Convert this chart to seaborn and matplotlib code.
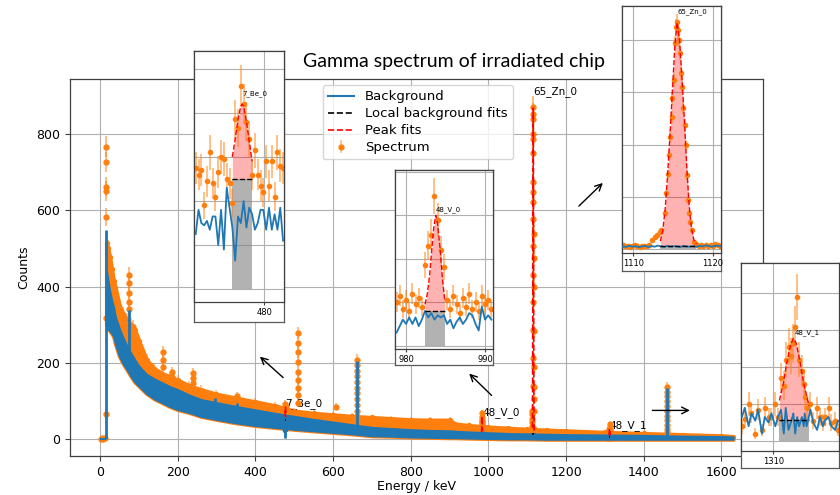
import numpy as np
import matplotlib
matplotlib.use("Agg")
import matplotlib.pyplot as plt
from matplotlib.ticker import MultipleLocator
from matplotlib.lines import Line2D
import seaborn as sns

# ---------------- data ----------------
# continuum envelope of the main spectrum (keV, counts)
band_keV = [17, 20, 25, 30, 35, 40, 50, 60, 70, 80, 90, 100, 120, 140, 160, 180, 200, 230, 260, 300,
            350, 400, 450, 500, 550, 600, 650, 700, 750, 800, 850, 900, 915, 950, 1000, 1050, 1100, 1150,
            1200, 1300, 1400, 1500, 1600, 1630]
spec_hi = [513, 500, 478, 445, 415, 395, 350, 328, 312, 300, 285, 258, 208, 185, 172, 164, 155, 140, 130, 118,
           108, 98, 88, 74, 68, 64, 60, 57, 54, 51, 50, 50, 40, 36, 32, 29, 26, 24,
           22, 18, 15, 12, 9, 7]
bg_hi = [440, 420, 390, 365, 347, 320, 290, 265, 243, 225, 208, 192, 170, 158, 148, 138, 130, 116, 104, 96,
         86, 77, 68, 60, 52, 45, 38, 31, 28, 25, 23, 22, 21, 19, 17, 15, 14, 13,
         12, 11, 10, 8, 7, 6]
bg_lo = [300, 290, 285, 278, 270, 250, 218, 198, 182, 165, 150, 140, 120, 106, 96, 86, 78, 70, 60, 52,
         43, 36, 31, 26, 22, 18, 14, 9, 8, 6, 5, 4, 4, 3, 2, 1, 1, 0,
         0, 0, 0, 0, 0, 0]

# lowest channels
low_keV = [3, 6, 9, 12]
low_counts = [1, 2, 1, 3]
low_bg = [0, 0, 0, 0]

# high channels of the strong lines (spectrum)
stack_keV = [15.5, 74.8, 84.5, 163, 186, 239, 352, 510.8, 609, 661.7, 1460.8]
stack_counts = [
    [66, 317, 583, 651, 662, 727, 766],
    [340, 360, 383, 409, 430],
    [278, 295],
    [190, 208, 229],
    [164, 177],
    [147, 160, 173],
    [112],
    [95, 115, 135, 155, 177, 203, 229, 251, 278],
    [85],
    [62, 75, 90, 105, 120, 135, 150, 165, 180, 195, 208],
    [20, 28, 38, 50, 62, 75, 88, 100, 112, 125, 138],
]
# background spikes
spike_keV = [15.5, 74.8, 296, 352, 476.9, 661.7, 1460.8]
spike_base = [0, 182, 55, 43, 2, 14, 0]
spike_top = [548, 339, 108, 95, 40, 206, 135]

# 7Be region
be_keV = [472.7, 473.0, 473.3, 473.6, 473.9, 474.2, 474.5, 474.8, 475.1, 475.4, 475.7, 476.0, 476.3, 476.6,
          476.9, 477.2, 477.5, 477.8, 478.1, 478.4, 478.7, 479.0, 479.3, 479.6, 479.9, 480.2, 480.5, 480.8,
          481.1, 481.4, 481.7, 482.0]
be_spec = [55, 52, 54, 38, 49, 62, 48, 42, 53, 60, 59, 50, 48, 39, 77, 73, 92, 84, 76, 68, 52, 63, 52, 47,
           44, 58, 47, 58, 42, 62, 56, 55]
be_bg = [25, 36, 30, 29, 31, 27, 33, 33, 20, 36, 18, 46, 37, 28, 13, 33, 30, 40, 28, 37, 34, 27, 30, 36,
         36, 27, 37, 27, 34, 27, 37, 22]
be_fit_keV = [476.6, 476.9, 477.2, 477.5, 477.65, 477.8, 478.1, 478.4, 478.7]
be_fit = [60, 68, 77, 83, 84, 83, 76, 67, 58]
be_fit_bg = 50

# 48V (983.5 keV) region
v0_keV = [978.8, 979.2, 979.6, 980.0, 980.4, 980.8, 981.2, 981.6, 982.0, 982.4, 982.8, 983.2, 983.6, 984.0,
          984.4, 984.8, 985.2, 985.6, 986.0, 986.4, 986.8, 987.2, 987.6, 988.0, 988.4, 988.8, 989.2, 989.6,
          990.0, 990.4, 990.8]
v0_spec = [20, 23, 17, 21, 16, 24, 19, 22, 18, 37, 46, 51, 69, 58, 44, 36, 21, 17, 23, 19, 15, 22, 18, 24,
           17, 20, 16, 23, 19, 21, 17]
v0_bg = [6, 9, 12, 10, 13, 10, 13, 9, 12, 16, 13, 15, 12, 14, 13, 14, 10, 12, 8, 11, 13, 10, 12, 15, 14,
         10, 7, 18, 12, 14, 12]
v0_fit_keV = [982.4, 982.7, 983.0, 983.3, 983.5, 983.76, 984.0, 984.3, 984.6, 984.9]
v0_fit = [19, 24, 33, 46, 54, 60, 56, 45, 31, 21]
v0_fit_bg = 16

# 65Zn region
zn_keV = [1108.7, 1109.0, 1109.3, 1109.6, 1109.9, 1110.2, 1110.5, 1110.8, 1111.1, 1111.4, 1111.7, 1112.0,
          1112.3, 1112.7, 1113.0, 1113.3, 1113.5, 1113.95, 1114.1, 1114.3, 1114.5, 1114.65, 1114.8, 1114.9,
          1115.05, 1115.2, 1115.35, 1115.45, 1115.6, 1115.75, 1115.9, 1116.05, 1116.15, 1116.3, 1116.45,
          1116.6, 1116.7, 1116.85, 1117.0, 1117.1, 1117.4, 1117.6,
          1117.9, 1118.2, 1118.5, 1118.8, 1119.1, 1119.4, 1119.7, 1120.0, 1120.3, 1120.6, 1120.9]
zn_spec = [14, 10, 13, 9, 12, 15, 11, 9, 12, 10, 13, 17,
           34, 45, 54, 66, 73, 139, 213, 287, 360, 430, 507, 577,
           647, 788, 852, 871, 839, 801, 750, 673, 622, 539, 475,
           398, 283, 188, 137, 105, 73, 28,
           18, 12, 15, 11, 14, 10, 16, 13, 19, 15, 12]
zn_bg_keV = [1108.7, 1109.1, 1109.5, 1109.9, 1110.3, 1110.7, 1111.1, 1111.5, 1111.9, 1112.3, 1112.7,
             1113.1, 1113.5, 1113.9, 1114.3, 1114.7, 1115.1, 1115.5, 1115.9, 1116.3, 1116.7, 1117.1,
             1117.5, 1117.9, 1118.3, 1118.7, 1119.1, 1119.5, 1119.9, 1120.3, 1120.7, 1121.0]
zn_bg = [10, 8, 12, 9, 11, 7, 10, 12, 8, 11, 9, 13, 10, 8, 12, 9, 11, 10, 8, 12, 10, 9, 11, 8, 12, 10,
         14, 11, 9, 13, 12, 10]
zn_fit_keV = [1113.4, 1113.7, 1114.0, 1114.3, 1114.6, 1114.9, 1115.2, 1115.5, 1115.8, 1116.1, 1116.4,
              1116.7, 1117.0, 1117.3, 1117.6, 1117.9]
zn_fit = [30, 70, 150, 280, 430, 600, 770, 868, 800, 660, 500, 320, 170, 80, 35, 18]
zn_fit_bg = 13

# 48V (1312.1 keV) region
v1_keV = [1306.7, 1307.0, 1307.4, 1307.7, 1308.1, 1308.4, 1308.8, 1309.1, 1309.5, 1309.8, 1310.2, 1310.5,
          1310.8, 1311.1, 1311.3, 1311.6, 1311.9, 1312.1, 1312.3, 1312.5, 1312.7, 1313.0, 1313.2, 1313.3,
          1313.5, 1313.9, 1314.2, 1314.6, 1314.9, 1315.2, 1315.4, 1315.8, 1316.1, 1316.5, 1316.8]
v1_spec = [4, 6, 10, 7.5, 2, 8.5, 3, 9, 6.5, 6.5, 10, 6.5, 17, 15, 22, 25.5, 23, 26.5, 31, 39,
           22, 19, 15.5, 12, 9, 10, 5.5, 9, 6.5, 5, 6.5, 9, 5, 5.5, 3]
v1_bg = [6.5, 9, 4, 7.5, 5.5, 8.5, 2, 6.5, 5, 7.5, 4, 6.5, 8.5, 2, 9, 3, 5.5, 7.5, 2, 6.5,
         4, 6.5, 4, 7.5, 4, 8.5, 5, 3, 6.5, 4, 5.5, 6.5, 4, 3, 5.5]
v1_fit_keV = [1310.64, 1311.0, 1311.4, 1311.8, 1312.1, 1312.4, 1312.8, 1313.2, 1313.76]
v1_fit = [11, 15, 21, 26, 27.8, 26.5, 21.5, 15.5, 9.5]
v1_fit_bg = 5.7

peak_labels = ["7_Be_0", "48_V_0", "65_Zn_0", "48_V_1"]
label_keV = [477.7, 983.8, 1115.5, 1312.2]
label_counts = [88, 62, 905, 29]

# ---------------- drawing ----------------
ERR = (1.0, 0.498, 0.055, 0.5)
GRID = '#b0b0b0'
SPINE = '0.25'

regions = [
    (be_keV, be_spec, be_keV, be_bg, be_fit_keV, be_fit, be_fit_bg),
    (v0_keV, v0_spec, v0_keV, v0_bg, v0_fit_keV, v0_fit, v0_fit_bg),
    (zn_keV, zn_spec, zn_bg_keV, zn_bg, zn_fit_keV, zn_fit, zn_fit_bg),
    (v1_keV, v1_spec, v1_keV, v1_bg, v1_fit_keV, v1_fit, v1_fit_bg),
]

fig = plt.figure(figsize=(8.4, 4.95), dpi=100)


def fpos(l, t, r, b):
    return [l / 840, 1 - b / 495, (r - l) / 840, (b - t) / 495]


def style_axes(ax):
    for s in ax.spines.values():
        s.set_color(SPINE)
        s.set_linewidth(0.9)
    ax.grid(True, color=GRID, lw=0.8)
    ax.set_axisbelow(True)


def draw_region(ax, reg, ms, lw_bg, lw_fit, elw):
    k, c, bk, b, fk, fv, fbg = reg
    ax.fill_between(fk, 0, fbg, color='0.5', alpha=0.6, lw=0, zorder=1.8)
    ax.fill_between(fk, fbg, fv, color='red', alpha=0.3, lw=0, zorder=1.8)
    ax.errorbar(k, c, yerr=np.sqrt(c), fmt='o', ms=ms, color='C1', ecolor=ERR,
                elinewidth=elw, capsize=0, zorder=2.2)
    sns.lineplot(x=bk, y=b, ax=ax, color='C0', linewidth=lw_bg, zorder=3)
    sns.lineplot(x=fk, y=fv, ax=ax, color='red', linestyle='--', linewidth=lw_fit, zorder=4)
    sns.lineplot(x=[fk[0], fk[-1]], y=[fbg, fbg], ax=ax, color='k', linestyle='--',
                 linewidth=lw_fit, zorder=4)


# main axes
ax = fig.add_axes(fpos(70, 79, 763, 456))
style_axes(ax)
ax.fill_between(band_keV, bg_lo, spec_hi, facecolor='C1', edgecolor='C1', lw=3, zorder=2)
spec_handle = ax.errorbar(low_keV, low_counts, yerr=np.sqrt(low_counts), fmt='o', ms=3.5, color='C1',
                          ecolor=ERR, elinewidth=1.2, zorder=2.2)
ax.errorbar(band_keV, spec_hi, yerr=np.sqrt(spec_hi), fmt='o', ms=2.8, color='C1',
            ecolor=ERR, elinewidth=1.2, zorder=2.1)
for e, cs in zip(stack_keV, stack_counts):
    ax.errorbar(np.full(len(cs), e), cs, yerr=np.sqrt(cs), fmt='o', ms=3.5, color='C1',
                ecolor=ERR, elinewidth=1.5, zorder=2.2)
ax.fill_between(band_keV, bg_lo, bg_hi, facecolor='C0', edgecolor='C0', lw=1.5, zorder=3)
ax.vlines(spike_keV, spike_base, spike_top, color='C0', lw=2, zorder=3)
sns.lineplot(x=low_keV, y=low_bg, ax=ax, color='C0', linewidth=1.5, zorder=3)
for reg in regions:
    draw_region(ax, reg, 3.5, 1.5, 1.2, 1.5)
for t, e, y in zip(peak_labels, label_keV, label_counts):
    ax.text(e, y, t, fontsize=7.5, ha='left', va='baseline', zorder=2.15)

ax.set_xlim(-77, 1707)
ax.set_ylim(-44, 944)
ax.xaxis.set_major_locator(MultipleLocator(200))
ax.yaxis.set_major_locator(MultipleLocator(200))
ax.tick_params(labelsize=9, color=SPINE)
ax.set_xlabel("Energy / keV", fontsize=9, labelpad=1)
ax.set_ylabel("Counts", fontsize=9)

handles = [Line2D([], [], color='C0', lw=1.5),
           Line2D([], [], color='k', ls='--', lw=1.2),
           Line2D([], [], color='red', ls='--', lw=1.2),
           spec_handle]
ax.legend(handles, ["Background", "Local background fits", "Peak fits", "Spectrum"],
          loc='upper left', bbox_to_anchor=(322.7 / 840, 1 - 85 / 495),
          bbox_transform=fig.transFigure, borderaxespad=0, fontsize=9.5, labelspacing=0.3)

# arrows pointing to the insets (tail -> tip, main-axes data coordinates)
arrows = [((471.8, 161.4), (411.8, 216.4)),
          ((1008.2, 114.8), (950.6, 171.9)),
          ((1233, 611), (1294.7, 671.6)),
          ((1422.1, 75.5), (1518.7, 75.5))]
for tail, tip in arrows:
    ax.annotate('', xy=tip, xytext=tail,
                arrowprops=dict(arrowstyle='->', color='k', lw=1.0, shrinkA=0, shrinkB=0,
                                mutation_scale=12), zorder=6)

fig.text(454 / 840, 1 - 62 / 495, "Gamma spectrum of irradiated chip", ha='center', va='center',
         fontsize=14, family='Lato')

# insets
inset_box = [(194.3, 51, 284.3, 302.3, 322), (395, 170, 493.3, 349.3, 365),
             (622, 6, 720.7, 253, 271), (740.7, 263, 839, 451, 468.3)]
inset_xlim = [(472.55, 482.13), (978.6, 991.05), (1108.6, 1120.96), (1306.57, 1316.9)]
inset_ylim = [(-5.9, 108), (-1.65, 80.8), (-15.3, 931), (-2.7, 48.2)]
inset_ystep = [20, 20, 200, 10]

for i, reg in enumerate(regions):
    l, t, r, b, bb = inset_box[i]
    box = fig.add_axes(fpos(l, t, r, bb))
    box.set_xticks([])
    box.set_yticks([])
    box.set_facecolor('white')
    box.set_zorder(5)
    for s in box.spines.values():
        s.set_color('0.35')
        s.set_linewidth(0.9)
    ia = fig.add_axes(fpos(l, t, r, b))
    ia.set_zorder(6)
    ia.set_facecolor('white')
    style_axes(ia)
    draw_region(ia, reg, 3, 1.3, 1.0, 1.4)
    ia.text(label_keV[i], label_counts[i], peak_labels[i], fontsize=5, ha='left', va='baseline',
            zorder=5)
    ia.set_xlim(*inset_xlim[i])
    ia.set_ylim(*inset_ylim[i])
    ia.xaxis.set_major_locator(MultipleLocator(10))
    ia.yaxis.set_major_locator(MultipleLocator(inset_ystep[i]))
    ia.tick_params(axis='y', length=0, labelleft=False)
    ia.tick_params(axis='x', labelsize=6, length=2.5, pad=1.5, color=SPINE)
    ia.set_xlabel('')
    ia.set_ylabel('')

fig.savefig("out.png", dpi=100)
